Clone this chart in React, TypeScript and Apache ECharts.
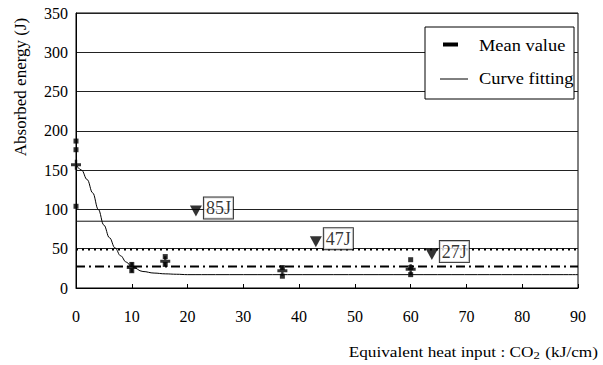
import React, { useEffect, useRef } from "react";
import * as echarts from "echarts";

const heatInput = [0, 10, 16, 37, 60];
const meanValues = [157, 26, 34, 22, 24];
const specimenValues: number[][] = [
  [187, 176, 104],
  [30, 22],
  [40, 30],
  [26, 15],
  [36, 26, 17],
];
const curveX = [0, 1, 2, 3, 4, 5, 6, 7, 8, 9, 10, 12, 14, 16, 18, 20, 25, 90];
const curveY = [157, 150, 138, 121, 100, 80, 64, 51, 41, 33, 27, 21, 19, 18, 17.5, 17, 17, 17];
const level85 = 85;
const level47 = 49;
const level27 = 27.5;
const markerX = [21.5, 43, 63.8];
const markerY = [98, 59, 42.5];
const markerText = ["85J", "47J", "27J"];
const xMin = 0, xMax = 90, xStep = 10;
const yMin = 0, yMax = 350, yStep = 50;

const FONT = "Liberation Serif";

export default function App() {
  const ref = useRef<HTMLDivElement>(null);
  useEffect(() => {
    const chart = echarts.init(ref.current!, null, { renderer: "svg" });
    const points: number[][] = [];
    heatInput.forEach((x, i) => specimenValues[i].forEach((v) => points.push([x, v])));
    const hline = (v: number) => [[xMin, v], [xMax, v]];
    chart.setOption({
      animation: false,
      backgroundColor: "#fff",
      textStyle: { fontFamily: FONT },
      grid: {
        left: 76, right: 25, top: 13, bottom: 77,
        show: true, borderColor: "#000", borderWidth: 1,
      },
      xAxis: {
        type: "value", min: xMin, max: xMax, interval: xStep,
        axisLine: { lineStyle: { color: "#000", width: 1 } },
        axisTick: { show: true, inside: true, length: 4, lineStyle: { color: "#000" } },
        splitLine: { show: false },
        axisLabel: { color: "#000", fontFamily: FONT, fontSize: 16, margin: 20 },
      },
      yAxis: {
        type: "value", min: yMin, max: yMax, interval: yStep,
        axisLine: { show: true, lineStyle: { color: "#000", width: 1 } },
        axisTick: { show: false },
        splitLine: { show: true, lineStyle: { color: "#222", width: 1 } },
        axisLabel: { color: "#000", fontFamily: FONT, fontSize: 16, margin: 8 },
      },
      series: [
        {
          type: "line", data: hline(level85), symbol: "none",
          lineStyle: { color: "#111", width: 1 }, z: 2,
        },
        {
          type: "line", data: hline(level47), symbol: "none",
          lineStyle: { color: "#000", width: 2, type: [2, 4] }, z: 2,
        },
        {
          type: "line", data: hline(level27), symbol: "none",
          lineStyle: { color: "#000", width: 2, type: [9, 4, 2, 4] }, z: 2,
        },
        {
          type: "line", data: curveX.map((x, i) => [x, curveY[i]]), symbol: "none",
          smooth: 0.4, smoothMonotone: "x",
          lineStyle: { color: "#000", width: 1 }, z: 3,
        },
        {
          type: "scatter", data: points, symbol: "rect", symbolSize: 5,
          itemStyle: { color: "#000" }, z: 4,
        },
        {
          type: "scatter", data: heatInput.map((x, i) => [x, meanValues[i]]),
          symbol: "path://M0,3.5 H10 V6.5 H0 Z M3.8,0 H6.2 V10 H3.8 Z",
          symbolSize: [10, 10], itemStyle: { color: "#000" }, z: 5,
        },
        {
          type: "scatter",
          data: markerX.map((x, i) => ({ value: [x, markerY[i]], name: markerText[i] })),
          symbol: "triangle", symbolRotate: 180, symbolSize: [12, 11],
          itemStyle: { color: "#000" }, z: 6,
          label: {
            show: true, position: "right", distance: 2,
            formatter: (p: any) => p.name,
            fontFamily: FONT, fontSize: 18, color: "#000",
            backgroundColor: "#fff", borderColor: "#000", borderWidth: 1,
            padding: [2, 2, 1, 2], offset: [0, -3],
          },
        },
      ],
      graphic: [
        { type: "rect", shape: { x: 425, y: 27, width: 149, height: 72 },
          style: { fill: "#fff", stroke: "#000", lineWidth: 1 }, z: 10 },
        { type: "rect", shape: { x: 443, y: 42.5, width: 15, height: 4 },
          style: { fill: "#000" }, z: 11 },
        { type: "line", shape: { x1: 440, y1: 79, x2: 468, y2: 79 },
          style: { stroke: "#000", lineWidth: 1 }, z: 11 },
        { type: "text", x: 479, y: 46, z: 11, scaleX: 1.15,
          style: { text: "Mean value", fontFamily: FONT, fontSize: 16, fill: "#000", verticalAlign: "middle" } },
        { type: "text", x: 479, y: 79, z: 11, scaleX: 1.15,
          style: { text: "Curve fitting", fontFamily: FONT, fontSize: 16, fill: "#000", verticalAlign: "middle" } },
        { type: "text", x: 20, y: 87, rotation: Math.PI / 2, z: 11,
          style: { text: "Absorbed energy (J)", fontFamily: FONT, fontSize: 17, fill: "#000",
            align: "center", verticalAlign: "middle" } },
        { type: "text", x: 598, y: 352, z: 11, scaleX: 1.15,
          style: {
            text: "Equivalent heat input : CO{sub|2} (kJ/cm)",
            fontFamily: FONT, fontSize: 15, fill: "#000", align: "right", verticalAlign: "middle",
            rich: { sub: { fontFamily: FONT, fontSize: 11, verticalAlign: "bottom", padding: [6, 1, 0, 0] } },
          } },
      ],
    });
    return () => chart.dispose();
  }, []);
  return <div ref={ref} style={{ width: 603, height: 365, position: "absolute", left: 0, top: 0 }} />;
}
